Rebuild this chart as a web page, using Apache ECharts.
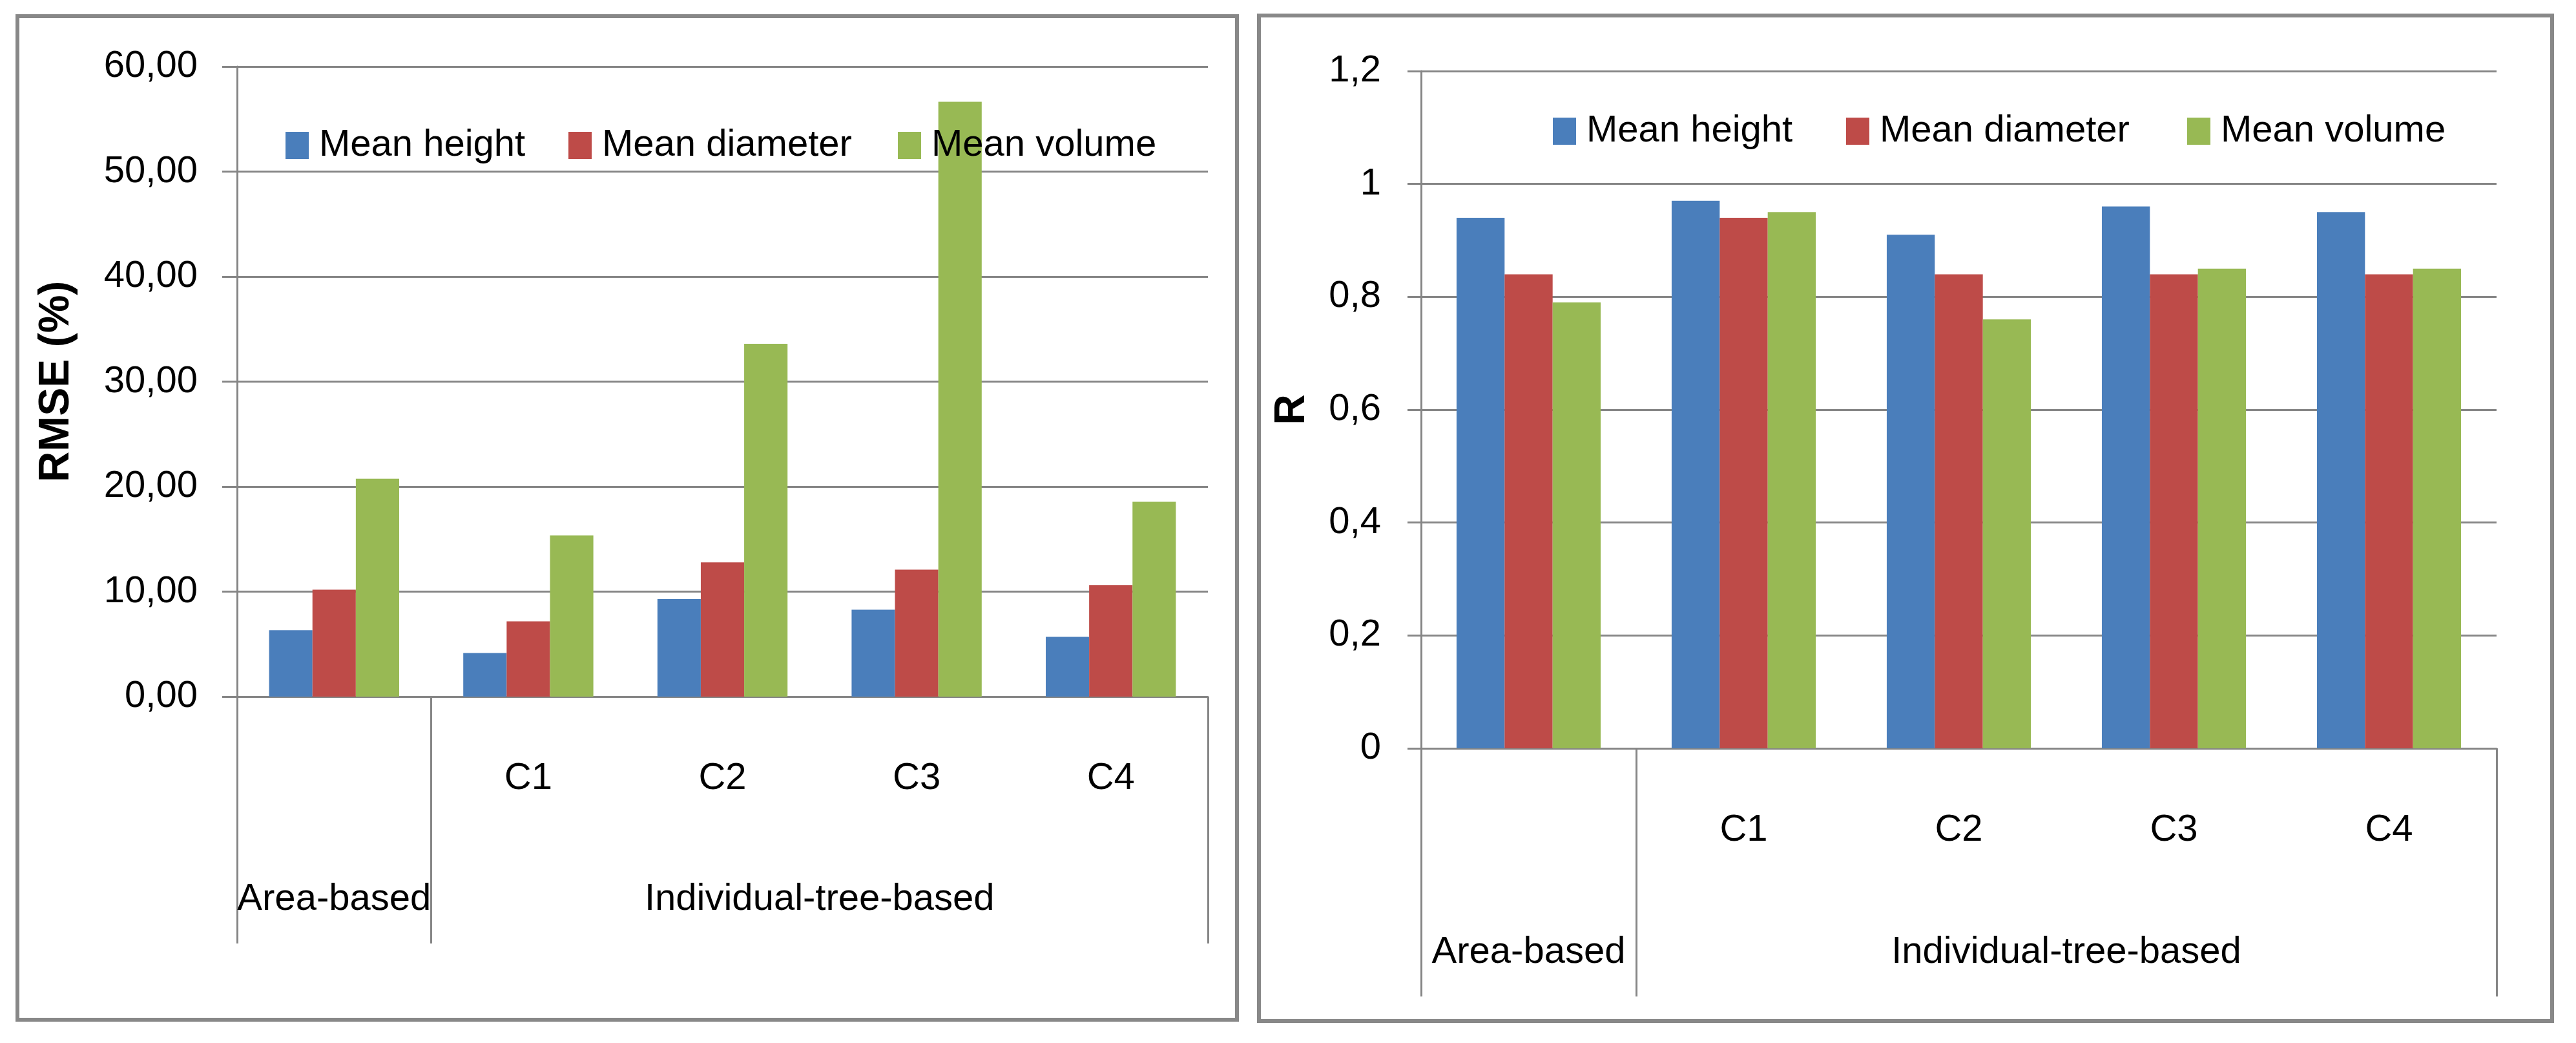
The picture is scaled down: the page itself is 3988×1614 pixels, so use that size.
<!DOCTYPE html>
<html>
<head>
    <meta charset="utf-8">
    <title>RMSE and R</title>
    <script src="https://cdn.jsdelivr.net/npm/echarts@6/dist/echarts.min.js"></script>
    <style>
        body { margin: 0; background: #fff; }
    </style>
</head>
<body>
    <div id="chartmain" style="width:3988px; height:1614px;"></div>
    <script type="text/javascript">
        // categories (first level under the axis) and the two groups below
        var categories = ['Area-based', 'C1', 'C2', 'C3', 'C4'];
        var subLabels = ['', 'C1', 'C2', 'C3', 'C4'];
        var groupLabels = ['Area-based', 'Individual-tree-based'];
        var seriesNames = ['Mean height', 'Mean diameter', 'Mean volume'];

        // left chart : RMSE (%)
        var rmseHeight = [6.33, 4.16, 9.30, 8.28, 5.69];
        var rmseDiameter = [10.18, 7.17, 12.78, 12.09, 10.63];
        var rmseVolume = [20.76, 15.35, 33.6, 56.65, 18.55];

        // right chart : R
        var rHeight = [0.94, 0.97, 0.91, 0.96, 0.95];
        var rDiameter = [0.84, 0.94, 0.84, 0.84, 0.84];
        var rVolume = [0.79, 0.95, 0.76, 0.85, 0.85];

        var colors = ['#4a7ebb', '#be4b48', '#98b954'];
        var gray = '#868686';
        var font = "'Liberation Sans', Arial, sans-serif";
        var fs = 58;

        function catAxis(grid) {
            return {
                type: 'category', gridIndex: grid, data: categories,
                axisLine: { lineStyle: { color: gray, width: 3 } },
                axisTick: { show: false },
                axisLabel: {
                    margin: 98, color: '#000', fontSize: fs, fontFamily: font,
                    formatter: function (v, i) { return subLabels[i]; }
                }
            };
        }
        // second level: group labels + long divider ticks
        function groupAxis(grid, len) {
            return {
                type: 'value', gridIndex: grid, position: 'bottom', min: 0, max: 5,
                axisLine: { show: false },
                splitLine: { show: false },
                axisTick: { show: true, customValues: [0, 1, 5], length: len, lineStyle: { color: gray, width: 3 } },
                axisLabel: {
                    customValues: [0.5, 3], margin: len - 97, color: '#000', fontSize: fs, fontFamily: font,
                    formatter: function (v) { return v < 1 ? groupLabels[0] : groupLabels[1]; }
                }
            };
        }
        function valAxis(grid, max, interval, tickLen, margin, name, gap, fmt) {
            return {
                type: 'value', gridIndex: grid, min: 0, max: max, interval: interval,
                name: name, nameLocation: 'middle', nameGap: gap, nameRotate: 90,
                nameTextStyle: { fontSize: 66, fontWeight: 'bold', color: '#000', fontFamily: font },
                axisLine: { show: true, lineStyle: { color: gray, width: 3 } },
                axisTick: { show: true, length: tickLen, lineStyle: { color: gray, width: 3 } },
                splitLine: { lineStyle: { color: gray, width: 3 } },
                axisLabel: { margin: margin, color: '#000', fontSize: fs, fontFamily: font, formatter: fmt }
            };
        }

        function legendItem(name, left, top) {
            return {
                left: left, top: top, data: [name], itemWidth: 36, itemHeight: 42,
                icon: 'rect', selectedMode: false,
                textStyle: { fontSize: fs, fontFamily: font, color: '#000', lineHeight: fs, padding: [0, 0, 0, 11] }
            };
        }

        function bar(name, data, axis, color) {
            return {
                name: name, type: 'bar', data: data, xAxisIndex: axis, yAxisIndex: axis / 2,
                barGap: '0%', barCategoryGap: '33%', itemStyle: { color: color }
            };
        }

        var option = {
            animation: false,
            grid: [
                { left: 367, top: 103, width: 1503, height: 975 },
                { left: 2200, top: 110, width: 1665, height: 1048 }
            ],
            xAxis: [catAxis(0), groupAxis(0, 382), catAxis(1), groupAxis(1, 384)],
            yAxis: [
                valAxis(0, 60, 10, 23, 61, 'RMSE (%)', 246, function (v) { return v.toFixed(2).replace('.', ','); }),
                valAxis(1, 1.2, 0.2, 21, 62, 'R', 166, function (v) { return String(parseFloat(v.toFixed(1))).replace('.', ','); })
            ],
            legend: [
                legendItem(seriesNames[0], 437, 191), legendItem(seriesNames[1], 875, 191), legendItem(seriesNames[2], 1385, 191),
                legendItem(seriesNames[0], 2399, 169), legendItem(seriesNames[1], 2853, 169), legendItem(seriesNames[2], 3381, 169)
            ],
            graphic: [
                { type: 'rect', shape: { x: 27, y: 25, width: 1888, height: 1553 }, style: { fill: 'none', stroke: '#888', lineWidth: 6 } },
                { type: 'rect', shape: { x: 1949, y: 24, width: 2002, height: 1556 }, style: { fill: 'none', stroke: '#888', lineWidth: 6 } }
            ],
            series: [
                bar(seriesNames[0], rmseHeight, 0, colors[0]),
                bar(seriesNames[1], rmseDiameter, 0, colors[1]),
                bar(seriesNames[2], rmseVolume, 0, colors[2]),
                bar(seriesNames[0], rHeight, 2, colors[0]),
                bar(seriesNames[1], rDiameter, 2, colors[1]),
                bar(seriesNames[2], rVolume, 2, colors[2])
            ]
        };

        var myChart = echarts.init(document.getElementById('chartmain'));
        myChart.setOption(option);
    </script>
</body>
</html>
